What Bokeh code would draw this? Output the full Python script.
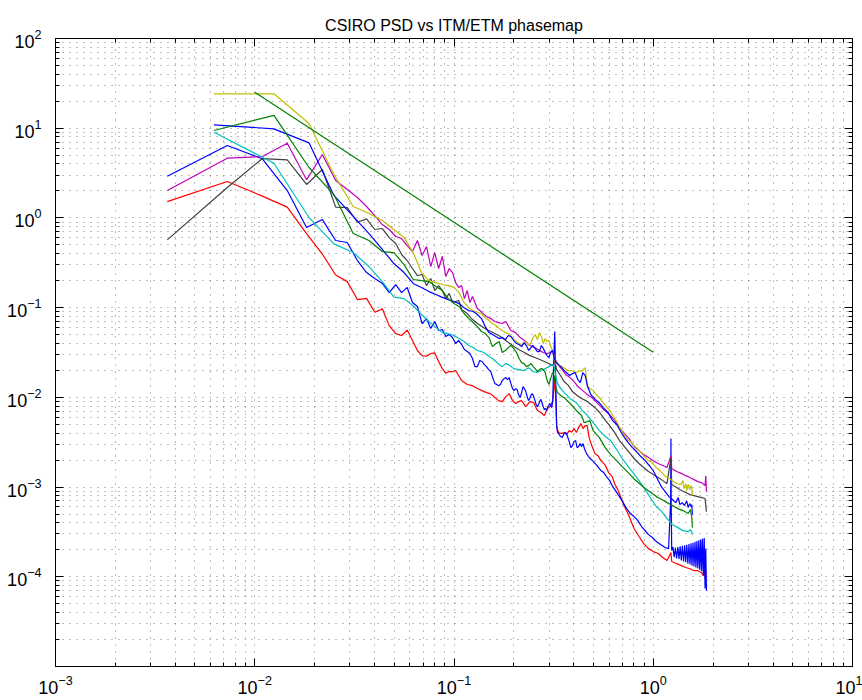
from bokeh.plotting import figure
from bokeh.models import FixedTicker, LogAxis
from bokeh.embed import file_html
from bokeh.resources import INLINE

TITLE = "CSIRO PSD vs ITM/ETM phasemap"

# ---------------- data ----------------
red_x = [0.00364, 0.00728, 0.01092, 0.01456, 0.0182, 0.02184, 0.02548, 0.02912, 0.03276, 0.0364,
         0.04004, 0.04368, 0.04732, 0.05096, 0.0546, 0.05824, 0.06188, 0.06552, 0.06916, 0.0728,
         0.07644, 0.08008, 0.08372, 0.08736, 0.091, 0.09464, 0.09828, 0.1019, 0.1092, 0.1165,
         0.1238, 0.131, 0.1383, 0.1456, 0.1529, 0.1602, 0.1674, 0.1747, 0.182, 0.1893,
         0.1966, 0.2038, 0.2111, 0.2184, 0.2293, 0.2402, 0.2512, 0.2621, 0.273, 0.2839,
         0.2948, 0.3058, 0.313, 0.3203, 0.324, 0.3276, 0.3349, 0.3458, 0.3567, 0.3676,
         0.3786, 0.3895, 0.4004, 0.4113, 0.4222, 0.4332, 0.4441, 0.455, 0.4659, 0.4768,
         0.4914, 0.5096, 0.5278, 0.546, 0.5715, 0.597, 0.6224, 0.6406, 0.6661, 0.6916,
         0.7171, 0.7462, 0.7717, 0.8008, 0.8481, 0.8954, 0.9464, 1.001, 1.059, 1.117,
         1.172, 1.227, 1.238, 1.31, 1.383, 1.456, 1.529, 1.602, 1.674, 1.747,
         1.784, 1.802, 1.82, 1.835, 1.849]
red_y = [1.52, 2.55, 1.75, 1.32, 0.67, 0.396, 0.231, 0.195, 0.123, 0.127,
         0.0889, 0.097, 0.063, 0.0514, 0.0489, 0.0562, 0.043, 0.0333, 0.0292, 0.0287,
         0.0308, 0.0313, 0.0251, 0.0209, 0.0186, 0.0194, 0.0194, 0.0199, 0.0154, 0.0139,
         0.0135, 0.01253, 0.0119, 0.0113, 0.01094, 0.00995, 0.0092, 0.00897, 0.0102, 0.011,
         0.0092, 0.00853, 0.00897, 0.0092, 0.00789, 0.00897, 0.0087, 0.00713, 0.00678, 0.00627,
         0.0075, 0.0081, 0.0092, 0.0162, 0.0092, 0.0046, 0.00405, 0.00395, 0.00405, 0.00384,
         0.00426, 0.00408, 0.00449, 0.00405, 0.0046, 0.0051, 0.00449, 0.00485, 0.00485, 0.00356,
         0.0029, 0.00236, 0.00224, 0.00197, 0.00178, 0.00145, 0.00131, 0.00109, 0.000914, 0.000745,
         0.000607, 0.000507, 0.000423, 0.000345, 0.000281, 0.000234, 0.000206, 0.000191, 0.000182, 0.000164,
         0.000152, 0.000186, 0.000148, 0.00014, 0.000133, 0.000127, 0.000123, 0.000117, 0.000117, 0.000111,
         0.000102, 0.00012, 0.0000955, 0.000115, 0.000109]

magenta_x = [0.00364, 0.00728, 0.01092, 0.01456, 0.0182, 0.02184, 0.02548, 0.02912, 0.03276, 0.0364,
             0.04004, 0.04368, 0.04732, 0.05096, 0.0546, 0.05824, 0.06188, 0.06552, 0.06916, 0.0728,
             0.07644, 0.08008, 0.08372, 0.08736, 0.091, 0.09464, 0.09828, 0.1019, 0.1056, 0.1092,
             0.1128, 0.1165, 0.1201, 0.1238, 0.131, 0.1383, 0.1456, 0.1529, 0.1602, 0.1674,
             0.1747, 0.182, 0.1929, 0.2038, 0.2148, 0.2257, 0.2366, 0.2475, 0.2584, 0.2694,
             0.2803, 0.2912, 0.3021, 0.313, 0.3203, 0.3276, 0.3385, 0.3494, 0.364, 0.3822,
             0.4004, 0.4186, 0.4368, 0.455, 0.4732, 0.4914, 0.5096, 0.5387, 0.5715, 0.6042,
             0.6406, 0.677, 0.7171, 0.7571, 0.8008, 0.8481, 0.8954, 0.9464, 1.001, 1.059,
             1.117, 1.172, 1.227, 1.238, 1.31, 1.383, 1.456, 1.529, 1.602, 1.674,
             1.747, 1.82, 1.835, 1.849]
magenta_y = [2.02, 4.63, 4.84, 6.8, 2.66, 5.09, 2.61, 2.07, 1.69, 1.34,
             1.06, 0.843, 0.743, 0.621, 0.589, 0.492, 0.422, 0.56, 0.381, 0.48,
             0.287, 0.411, 0.273, 0.372, 0.222, 0.273, 0.246, 0.19, 0.168, 0.176,
             0.126, 0.155, 0.114, 0.133, 0.0977, 0.0881, 0.0796, 0.0755, 0.07, 0.0682,
             0.0665, 0.07, 0.0556, 0.0527, 0.0464, 0.043, 0.0388, 0.0368, 0.035, 0.0333,
             0.0316, 0.0308, 0.0313, 0.0333, 0.0278, 0.0244, 0.022, 0.0204, 0.0179, 0.0166,
             0.015, 0.0132, 0.0122, 0.0113, 0.0105, 0.00995, 0.0092, 0.0081, 0.00713, 0.00643,
             0.00551, 0.0046, 0.00394, 0.00347, 0.00283, 0.00255, 0.0023, 0.00213, 0.00197, 0.00183,
             0.00174, 0.00165, 0.00224, 0.00161, 0.00149, 0.00142, 0.00134, 0.00128, 0.00121, 0.00115,
             0.00112, 0.00104, 0.00134, 0.00089]

gray_x = [0.00364, 0.00728, 0.01092, 0.01456, 0.0182, 0.02184, 0.02548, 0.02912, 0.03276, 0.0364,
          0.04004, 0.04368, 0.04732, 0.05096, 0.0546, 0.05824, 0.06188, 0.06552, 0.06916, 0.0728,
          0.07644, 0.08008, 0.08372, 0.08736, 0.091, 0.09464, 0.09828, 0.1019, 0.1056, 0.1092,
          0.1128, 0.1165, 0.1238, 0.131, 0.1383, 0.1456, 0.1529, 0.1602, 0.1711, 0.182,
          0.1966, 0.2111, 0.2257, 0.2402, 0.2548, 0.2694, 0.2839, 0.2985, 0.313, 0.3203,
          0.3276, 0.3422, 0.3567, 0.3749, 0.3931, 0.415, 0.4368, 0.4586, 0.4805, 0.5096,
          0.5387, 0.5715, 0.6042, 0.6406, 0.677, 0.7171, 0.7571, 0.8008, 0.8481, 0.8954,
          0.9464, 1.001, 1.059, 1.117, 1.172, 1.227, 1.238, 1.31, 1.383, 1.456,
          1.529, 1.602, 1.674, 1.747, 1.82, 1.849]
gray_y = [0.57, 2.18, 4.59, 4.44, 2.36, 3.47, 1.32, 1.30, 0.895, 0.977,
          0.743, 0.762, 0.604, 0.519, 0.391, 0.335, 0.273, 0.228, 0.234, 0.176,
          0.211, 0.155, 0.176, 0.155, 0.126, 0.144, 0.114, 0.117, 0.12, 0.0953,
          0.0906, 0.086, 0.0736, 0.0665, 0.0615, 0.057, 0.0542, 0.0514, 0.0476, 0.043,
          0.0378, 0.0341, 0.0316, 0.0292, 0.0278, 0.0264, 0.0251, 0.0238, 0.0226, 0.0255,
          0.0204, 0.0175, 0.015, 0.0136, 0.0116, 0.0105, 0.0097, 0.0092, 0.00853, 0.00769,
          0.00678, 0.00565, 0.00485, 0.00405, 0.0033, 0.00283, 0.00243, 0.00208, 0.00183, 0.00165,
          0.00149, 0.00138, 0.00128, 0.00118, 0.00109, 0.00213, 0.00107, 0.000987, 0.000914, 0.000869,
          0.000824, 0.000803, 0.000783, 0.000764, 0.000745, 0.000533]

blue1_x = [0.00364, 0.00728, 0.01092, 0.01456, 0.0182, 0.02184, 0.02548, 0.02912, 0.03276, 0.0364,
           0.04004, 0.04368, 0.04732, 0.05096, 0.0546, 0.05824, 0.06188, 0.06552, 0.06916, 0.0728,
           0.07644, 0.08008, 0.08372, 0.08736, 0.091, 0.09464, 0.09828, 0.1019, 0.1056, 0.1092,
           0.1128, 0.1165, 0.1201, 0.1238, 0.1274, 0.131, 0.1347, 0.1383, 0.142, 0.1456,
           0.1492, 0.1529, 0.1565, 0.1602, 0.1638, 0.1674, 0.1711, 0.1747, 0.1784, 0.182,
           0.1856, 0.1893, 0.1929, 0.1966, 0.2002, 0.2038, 0.2075, 0.2111, 0.2148, 0.2184,
           0.222, 0.2257, 0.2293, 0.233, 0.2366, 0.2402, 0.2439, 0.2475, 0.2512, 0.2548,
           0.2584, 0.2621, 0.2657, 0.2694, 0.273, 0.2766, 0.2803, 0.2839, 0.2876, 0.2912,
           0.2948, 0.2985, 0.3021, 0.3058, 0.3094, 0.313, 0.3167, 0.3203, 0.324, 0.3276,
           0.3312, 0.3349, 0.3422, 0.3494, 0.3567, 0.364, 0.3713, 0.3786, 0.3858, 0.3931,
           0.4004, 0.4077, 0.415, 0.4222, 0.4295, 0.4368, 0.4441, 0.4514, 0.4623, 0.4732,
           0.4878, 0.5023, 0.5169, 0.5314, 0.546, 0.5642, 0.5824, 0.6042, 0.6261, 0.6516,
           0.677, 0.7062, 0.7353, 0.768, 0.8008, 0.8372, 0.8736, 0.91, 0.9464, 0.9901,
           1.037, 1.092, 1.147, 1.194, 1.223, 1.227, 1.23, 1.238, 1.256, 1.274,
           1.292, 1.31, 1.329, 1.347, 1.365, 1.383, 1.401, 1.42, 1.438, 1.456,
           1.474, 1.492, 1.511, 1.529, 1.547, 1.565, 1.583, 1.602, 1.62, 1.638,
           1.656, 1.674, 1.693, 1.711, 1.729, 1.747, 1.765, 1.784, 1.802, 1.82,
           1.835, 1.849]
blue1_y = [2.92, 6.41, 4.56, 2.02, 0.782, 0.959, 0.56, 0.532, 0.335, 0.246,
           0.211, 0.186, 0.147, 0.181, 0.147, 0.168, 0.114, 0.103, 0.0665, 0.0755,
           0.0585, 0.07, 0.0556, 0.057, 0.0476, 0.0501, 0.0464, 0.0398, 0.043, 0.0388,
           0.0341, 0.0324, 0.0308, 0.0271, 0.022, 0.022, 0.0257, 0.0251, 0.0232, 0.022,
           0.0204, 0.0194, 0.0166, 0.0143, 0.0139, 0.0135, 0.0139, 0.0154, 0.0162, 0.0166,
           0.0158, 0.0166, 0.0143, 0.0125, 0.0119, 0.0125, 0.0122, 0.0107, 0.00995, 0.0113,
           0.0132, 0.0125, 0.0116, 0.0102, 0.0092, 0.0097, 0.0107, 0.011, 0.0102, 0.0092,
           0.00832, 0.00789, 0.00832, 0.00897, 0.0095, 0.0087, 0.00789, 0.00731, 0.0075, 0.00713,
           0.00769, 0.0081, 0.00853, 0.0081, 0.00769, 0.0092, 0.0255, 0.0542, 0.0154, 0.00485,
           0.00405, 0.00395, 0.00366, 0.00356, 0.00395, 0.00405, 0.00366, 0.00321, 0.00275, 0.0029,
           0.00321, 0.0033, 0.00275, 0.00283, 0.00305, 0.00283, 0.00305, 0.00269, 0.00236, 0.00219,
           0.00203, 0.00192, 0.00178, 0.00165, 0.00153, 0.00145, 0.00131, 0.00118, 0.00101, 0.00089,
           0.000783, 0.000671, 0.000575, 0.000507, 0.000469, 0.000423, 0.000363, 0.000328, 0.000295, 0.000274,
           0.000247, 0.000228, 0.000212, 0.000206, 0.000708, 0.00347, 0.000708, 0.000196, 0.000215, 0.000165,
           0.00021, 0.00016, 0.000215, 0.000158, 0.000218, 0.000152, 0.000222, 0.000148, 0.000225, 0.000145,
           0.000228, 0.00014, 0.000232, 0.000137, 0.000236, 0.000133, 0.00024, 0.00013, 0.000245, 0.000127,
           0.00025, 0.000124, 0.000255, 0.00012, 0.00026, 0.000115, 0.000265, 0.000105, 0.00027, 0.000074,
           0.000206, 0.00007]

yellow_x = [0.00624, 0.01248, 0.01872, 0.02496, 0.0312, 0.03744, 0.04368, 0.04992, 0.05616, 0.0624,
            0.06864, 0.07488, 0.08112, 0.08736, 0.0936, 0.09984, 0.1061, 0.1123, 0.1186, 0.1248,
            0.131, 0.1373, 0.1435, 0.1498, 0.156, 0.1622, 0.1685, 0.1747, 0.181, 0.1872,
            0.1934, 0.1997, 0.2059, 0.2122, 0.2184, 0.2246, 0.2309, 0.2371, 0.2434, 0.2496,
            0.2558, 0.2621, 0.2683, 0.2746, 0.2808, 0.287, 0.2933, 0.2995, 0.3058, 0.312,
            0.3182, 0.3245, 0.3307, 0.337, 0.3494, 0.3619, 0.3744, 0.3869, 0.3994, 0.4118,
            0.4243, 0.4368, 0.4493, 0.4555, 0.4618, 0.468, 0.4805, 0.4992, 0.5179, 0.5366,
            0.5554, 0.5741, 0.5928, 0.6115, 0.6302, 0.6552, 0.6739, 0.6989, 0.7238, 0.7488,
            0.7738, 0.7987, 0.8237, 0.8549, 0.8861, 0.911, 0.9422, 0.9734, 1.005, 1.036,
            1.067, 1.104, 1.142, 1.173, 1.211, 1.229, 1.248, 1.285, 1.329, 1.373,
            1.41, 1.423, 1.46, 1.473, 1.498, 1.523, 1.548, 1.56, 1.572]
yellow_y = [24.2, 24.2, 11.3, 3.05, 1.34, 1.12, 0.935, 0.743, 0.604, 0.411,
            0.246, 0.2, 0.19, 0.181, 0.176, 0.168, 0.147, 0.114, 0.1, 0.0929,
            0.0881, 0.086, 0.0776, 0.0718, 0.0665, 0.0632, 0.0585, 0.0556, 0.0527, 0.0514,
            0.0476, 0.044, 0.0419, 0.0398, 0.0388, 0.0398, 0.0419, 0.0378, 0.0408, 0.0464,
            0.0501, 0.044, 0.0527, 0.0476, 0.0398, 0.0452, 0.0419, 0.043, 0.0368, 0.0333,
            0.0278, 0.0238, 0.0244, 0.0226, 0.022, 0.0209, 0.0199, 0.0199, 0.0194, 0.0189,
            0.0199, 0.0194, 0.0209, 0.0214, 0.0162, 0.0135, 0.0125, 0.0119, 0.0107, 0.00995,
            0.00897, 0.0081, 0.0075, 0.00695, 0.00611, 0.00537, 0.00472, 0.00416, 0.00366, 0.0033,
            0.00321, 0.0029, 0.00275, 0.00249, 0.0023, 0.00213, 0.00197, 0.00192, 0.00178, 0.00165,
            0.00156, 0.00145, 0.00134, 0.00128, 0.00124, 0.00121, 0.00118, 0.00112, 0.00109, 0.00107,
            0.00118, 0.000965, 0.00109, 0.000914, 0.00107, 0.000938, 0.00104, 0.000965, 0.000803]

blue2_x = [0.00624, 0.01248, 0.01872, 0.02496, 0.0312, 0.03744, 0.04368, 0.04992, 0.05616, 0.0624,
           0.06864, 0.07488, 0.08112, 0.08736, 0.0936, 0.09984, 0.1061, 0.1123, 0.1186, 0.1248,
           0.131, 0.1373, 0.1435, 0.1498, 0.156, 0.1622, 0.1685, 0.1747, 0.181, 0.1872,
           0.1934, 0.1997, 0.2059, 0.2122, 0.2184, 0.2246, 0.2309, 0.2371, 0.2434, 0.2496,
           0.2558, 0.2621, 0.2683, 0.2746, 0.2808, 0.287, 0.2933, 0.2995, 0.3058, 0.312,
           0.3182, 0.3245, 0.3307, 0.3432, 0.3619, 0.3806, 0.3931, 0.4056, 0.4181, 0.4306,
           0.443, 0.4555, 0.468, 0.4867, 0.5117, 0.5366, 0.5616, 0.5928, 0.624, 0.6552,
           0.6864, 0.7176, 0.7488, 0.7862, 0.8237, 0.8674, 0.911, 0.9547, 0.9984, 1.048,
           1.098, 1.148, 1.198, 1.248, 1.298, 1.335, 1.36, 1.398, 1.435, 1.473,
           1.498, 1.523, 1.548, 1.56, 1.572]
blue2_y = [10.9, 9.84, 6.87, 1.78, 1.04, 0.67, 0.445, 0.31, 0.246, 0.186,
           0.168, 0.151, 0.14, 0.13, 0.123, 0.117, 0.111, 0.1, 0.0929, 0.0906,
           0.0838, 0.0755, 0.0615, 0.0527, 0.0501, 0.0476, 0.0452, 0.0464, 0.044, 0.0489,
           0.0476, 0.043, 0.0398, 0.0388, 0.0368, 0.0408, 0.0378, 0.0333, 0.0359, 0.0378,
           0.035, 0.0324, 0.0324, 0.0378, 0.035, 0.0316, 0.0292, 0.0278, 0.0316, 0.0333,
           0.0278, 0.0244, 0.0238, 0.022, 0.0194, 0.0175, 0.0184, 0.0189, 0.0158, 0.0146,
           0.0189, 0.0175, 0.0132, 0.0107, 0.0095, 0.0087, 0.00769, 0.00678, 0.00551, 0.00498,
           0.00416, 0.00356, 0.00313, 0.00275, 0.00249, 0.00219, 0.00197, 0.00174, 0.00153, 0.00124,
           0.00101, 0.00089, 0.000783, 0.000726, 0.000671, 0.000764, 0.000638, 0.000671, 0.000623, 0.000698,
           0.00059, 0.000654, 0.000607, 0.000638, 0.000493]

cyan_x = [0.00624, 0.01248, 0.01872, 0.02496, 0.0312, 0.03744, 0.04368, 0.04992, 0.05616, 0.0624,
          0.06864, 0.07488, 0.08112, 0.08736, 0.0936, 0.09984, 0.1061, 0.1123, 0.1186, 0.1248,
          0.131, 0.1373, 0.1435, 0.1498, 0.156, 0.1622, 0.1685, 0.1747, 0.181, 0.1872,
          0.1997, 0.2122, 0.2246, 0.2371, 0.2496, 0.2621, 0.2746, 0.287, 0.2995, 0.312,
          0.3182, 0.3245, 0.3307, 0.3432, 0.3619, 0.3869, 0.4118, 0.4368, 0.468, 0.4992,
          0.5366, 0.5741, 0.6115, 0.6552, 0.6989, 0.7488, 0.7987, 0.8549, 0.911, 0.9734,
          1.036, 1.104, 1.173, 1.248, 1.329, 1.41, 1.498, 1.535, 1.56, 1.572]
cyan_y = [9.02, 4.07, 1.01, 0.514, 0.411, 0.287, 0.195, 0.131, 0.126, 0.105,
          0.0838, 0.07, 0.06, 0.0527, 0.0514, 0.0489, 0.0452, 0.0419, 0.0378, 0.0359,
          0.0333, 0.0324, 0.0308, 0.0285, 0.0271, 0.0251, 0.0232, 0.022, 0.0238, 0.0232,
          0.0209, 0.0204, 0.0199, 0.0214, 0.0194, 0.0189, 0.0199, 0.0209, 0.022, 0.0232,
          0.022, 0.017, 0.0143, 0.0125, 0.011, 0.0095, 0.0087, 0.00731, 0.00627, 0.00524,
          0.00426, 0.00366, 0.0033, 0.00262, 0.00208, 0.00169, 0.00141, 0.00115, 0.000938, 0.000745,
          0.000607, 0.000533, 0.000446, 0.000382, 0.000353, 0.000327, 0.000319, 0.000336, 0.000319, 0.000295]

green_x = [0.00624, 0.01248, 0.01872, 0.02496, 0.0312, 0.03744, 0.04368, 0.04992, 0.05616, 0.0624,
           0.06864, 0.07488, 0.08112, 0.08736, 0.0936, 0.09984, 0.1061, 0.1123, 0.1186, 0.1248,
           0.131, 0.1373, 0.1435, 0.1498, 0.156, 0.1622, 0.1685, 0.1747, 0.181, 0.1872,
           0.1934, 0.1997, 0.2059, 0.2122, 0.2184, 0.2246, 0.2309, 0.2371, 0.2434, 0.2496,
           0.2558, 0.2621, 0.2683, 0.2746, 0.2808, 0.287, 0.2933, 0.2995, 0.3058, 0.312,
           0.3182, 0.3245, 0.3307, 0.3432, 0.3619, 0.3869, 0.4118, 0.4368, 0.4493, 0.468,
           0.4805, 0.4992, 0.5366, 0.5741, 0.6115, 0.6552, 0.6989, 0.7488, 0.7987, 0.8549,
           0.911, 0.9734, 1.036, 1.104, 1.173, 1.248, 1.329, 1.41, 1.498, 1.535,
           1.56, 1.572]
green_y = [9.42, 13.9, 3.65, 1.82, 0.67, 0.56, 0.422, 0.411, 0.302, 0.206,
           0.2, 0.195, 0.172, 0.155, 0.126, 0.111, 0.103, 0.086, 0.0755, 0.0682,
           0.0615, 0.0542, 0.0514, 0.0464, 0.0368, 0.0398, 0.0419, 0.0316, 0.0333, 0.0359,
           0.0378, 0.035, 0.0316, 0.0271, 0.0244, 0.0238, 0.022, 0.0226, 0.0238, 0.022,
           0.0209, 0.0194, 0.0204, 0.0209, 0.0204, 0.0189, 0.0154, 0.0139, 0.0162, 0.0189,
           0.0175, 0.0129, 0.0113, 0.0105, 0.0097, 0.00832, 0.00713, 0.00627, 0.00524, 0.00537,
           0.00551, 0.00426, 0.00356, 0.00275, 0.0023, 0.00197, 0.00169, 0.00145, 0.00124, 0.00109,
           0.000965, 0.000869, 0.000783, 0.000726, 0.000671, 0.000623, 0.000575, 0.000547, 0.000507, 0.00056,
           0.000469, 0.000353]

ref_x = [0.01, 1.0]
ref_y = [25.2, 0.0318]

x_major = [1e-3, 1e-2, 1e-1, 1e0, 1e1]
y_major = [1e-4, 1e-3, 1e-2, 1e-1, 1e0, 1e1, 1e2]

# ---------------- figure ----------------
FONT = "Liberation Sans"
p = figure(width=862, height=700, x_axis_type="log", y_axis_type="log",
           x_range=(1e-3, 1e1), y_range=(1e-5, 1e2),
           output_backend="svg", toolbar_location=None,
           min_border_left=55, min_border_right=10, min_border_top=38, min_border_bottom=34)
p.background_fill_color = "white"
p.border_fill_color = "white"
p.outline_line_color = "black"
p.outline_line_width = 1

p.title.text = TITLE
p.title.align = "center"
p.title.text_font = FONT
p.title.text_font_size = "16px"
p.title.text_font_style = "normal"
p.title.text_color = "black"

x_minor = [m * 10.0 ** e for e in range(-3, 1) for m in range(2, 10)]
y_minor = [m * 10.0 ** e for e in range(-5, 2) for m in range(2, 10)]
xt = FixedTicker(ticks=x_major, minor_ticks=x_minor)
yt = FixedTicker(ticks=y_major, minor_ticks=y_minor)


def style_axis(ax, show_labels=True):
    ax.axis_line_color = "black"
    ax.major_tick_in = 8
    ax.major_tick_out = 0
    ax.minor_tick_in = 4
    ax.minor_tick_out = 0
    ax.major_tick_line_color = "black"
    ax.minor_tick_line_color = "black"
    ax.major_label_text_font = FONT
    ax.major_label_text_color = "black"
    if show_labels:
        ax.major_label_text_font_size = "18px"
    else:
        ax.major_label_text_font_size = "2px"
        ax.major_label_text_alpha = 0.0
        ax.major_label_standoff = 0


p.xaxis.ticker = xt
p.yaxis.ticker = yt
style_axis(p.xaxis[0])
style_axis(p.yaxis[0])
p.xaxis.major_label_standoff = 8
p.yaxis.major_label_standoff = 14

top = LogAxis(ticker=xt)
right = LogAxis(ticker=yt)
style_axis(top, False)
style_axis(right, False)
p.add_layout(top, "above")
p.add_layout(right, "right")

for g, t in ((p.xgrid[0], xt), (p.ygrid[0], yt)):
    g.ticker = t
    g.grid_line_color = "black"
    g.grid_line_dash = "1 6"
    g.grid_line_alpha = 0.5
    g.minor_grid_line_color = "black"
    g.minor_grid_line_dash = "1 6"
    g.minor_grid_line_alpha = 0.5

series = [
    (red_x, red_y, "#FF0000"),
    (blue1_x, blue1_y, "#0000FF"),
    (magenta_x, magenta_y, "#BF00BF"),
    (gray_x, gray_y, "#404040"),
    (yellow_x, yellow_y, "#BFBF00"),
    (blue2_x, blue2_y, "#0000FF"),
    (cyan_x, cyan_y, "#00BFBF"),
    (green_x, green_y, "#008000"),
    (ref_x, ref_y, "#008000"),
]
for xs, ys, c in series:
    p.line(xs, ys, line_color=c, line_width=1.2)

open("out.html", "w").write(file_html(p, INLINE))
